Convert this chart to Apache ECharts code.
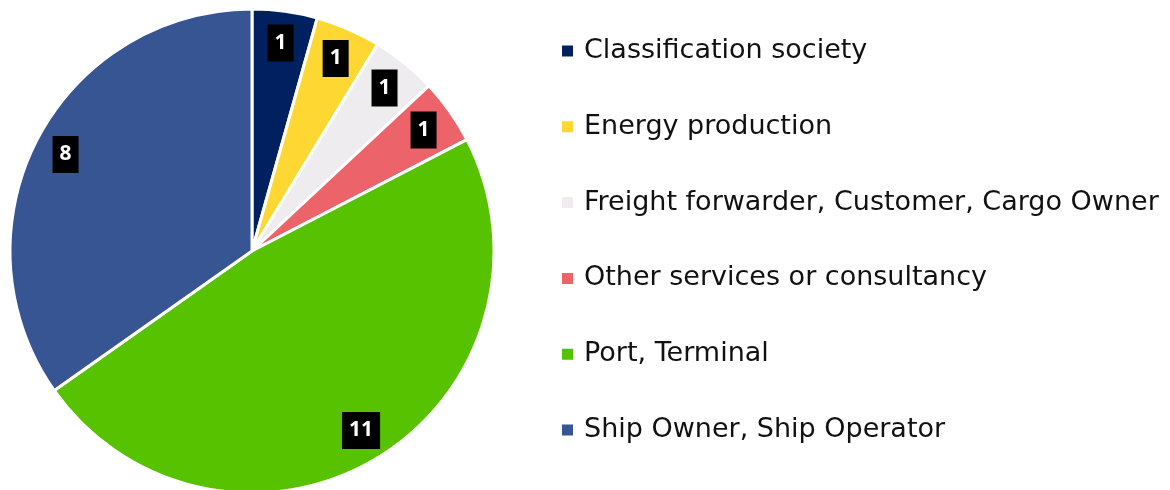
<!DOCTYPE html>
<html>
<head>
<meta charset="utf-8">
<script src="https://cdn.jsdelivr.net/npm/echarts@6/dist/echarts.min.js"></script>
<style>html,body{margin:0;padding:0;background:#fff}#c{width:1170px;height:490px}</style>
</head>
<body>
<div id="c"></div>
<script>
const categories = ["Classification society", "Energy production", "Freight forwarder, Customer, Cargo Owner", "Other services or consultancy", "Port, Terminal", "Ship Owner, Ship Operator"];
const values = [1, 1, 1, 1, 11, 8];
const colors = ["#002060", "#FFD733", "#EEECEF", "#EC636A", "#56C200", "#375592"];

const chart = echarts.init(document.getElementById('c'), null, {renderer: 'canvas'});
const sliceData = categories.map((n, i) => ({name: n, value: values[i], itemStyle: {color: colors[i]}}));
const labelData = categories.map((n, i) => ({name: n, value: values[i]}));
chart.setOption({
  animation: false,
  legend: {
    orient: 'vertical',
    left: 555,
    top: 31,
    icon: 'rect',
    itemWidth: 13,
    itemHeight: 13,
    itemGap: 45.8,
    selectedMode: false,
    data: categories.map((n, i) => ({name: n, itemStyle: {color: colors[i]}})),
    textStyle: {fontFamily: 'DejaVu Sans', fontSize: 27, color: '#111', lineHeight: 30, padding: [0, 0, 0, 5]}
  },
  series: [
    {
      type: 'pie',
      center: [252, 251],
      radius: [0, 242],
      startAngle: 90,
      clockwise: true,
      silent: true,
      label: {show: false},
      labelLine: {show: false},
      itemStyle: {borderColor: '#fff', borderWidth: 3},
      data: sliceData
    },
    {
      type: 'pie',
      center: [252, 251],
      radius: [172, 242],
      startAngle: 90,
      clockwise: true,
      silent: true,
      itemStyle: {color: 'rgba(0,0,0,0)'},
      label: {
        show: true,
        position: 'inside',
        formatter: '{c}',
        color: '#fff',
        fontFamily: 'Noto Sans',
        fontWeight: 'bold',
        fontSize: 21,
        lineHeight: 21,
        backgroundColor: '#000',
        padding: [8, 7, 8, 7]
      },
      labelLine: {show: false},
      data: labelData
    }
  ]
});
</script>
</body>
</html>
